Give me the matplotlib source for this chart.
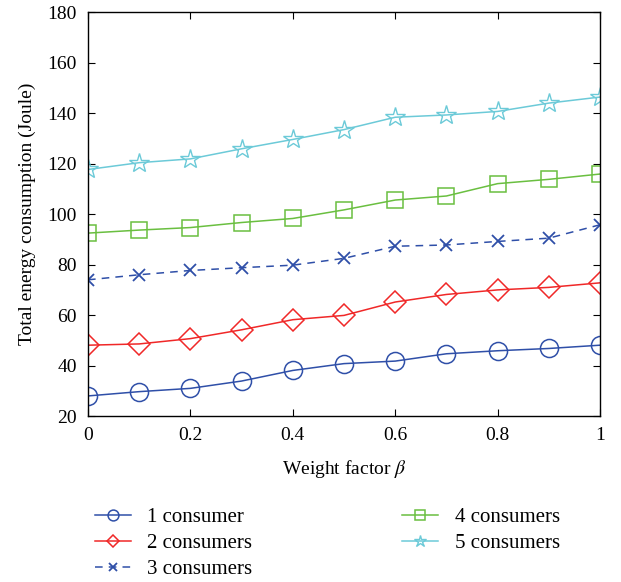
import matplotlib
matplotlib.use('Agg')
import matplotlib.pyplot as plt

plt.rcParams['font.family'] = ['Liberation Serif', 'DejaVu Serif']
plt.rcParams['mathtext.fontset'] = 'stix'

beta = [0, 0.1, 0.2, 0.3, 0.4, 0.5, 0.6, 0.7, 0.8, 0.9, 1.0]

#energy for each number of consumers
energy1 = [28.0, 29.7, 31.0, 33.9, 38.1, 40.8, 41.8, 44.7, 45.9, 46.8, 48.1]
energy2 = [48.1, 48.6, 50.7, 54.2, 58.2, 59.9, 65.2, 68.2, 70.0, 71.0, 72.8]
energy3 = [74.0, 76.0, 77.7, 78.8, 79.8, 82.5, 87.3, 87.8, 89.2, 90.5, 95.8]
energy4 = [92.5, 93.7, 94.7, 96.7, 98.3, 101.7, 105.6, 107.2, 112.1, 113.8, 115.9]
energy5 = [117.7, 120.4, 121.9, 125.9, 129.6, 133.5, 138.4, 139.3, 140.7, 144.0, 146.4]

labels = ['1 consumer', '2 consumers', '3 consumers', '4 consumers', '5 consumers']
yticks = [20, 40, 60, 80, 100, 120, 140, 160, 180]
xticks = [0, 0.2, 0.4, 0.6, 0.8, 1]

fig = plt.figure(figsize=(6.21, 5.82), dpi=100)
ax = fig.add_axes([0.1417, 0.285, 0.8245, 0.694])

ax.plot(beta, energy1, color='#2f4fa8', marker='o', ms=13, mfc='none', mew=1.1, lw=1.1, label=labels[0])
ax.plot(beta, energy2, color='#f02828', marker='D', ms=11, mfc='none', mew=1.1, lw=1.1, label=labels[1])
ax.plot(beta, energy3, color='#2f4fa8', marker='x', ms=9, mew=1.3, lw=1.1, ls=(0, (5, 4)), label=labels[2])
ax.plot(beta, energy4, color='#6abf40', marker='s', ms=11, mfc='none', mew=1.1, lw=1.1, label=labels[3])
ax.plot(beta, energy5, color='#6ccad8', marker='*', ms=15, mfc='none', mew=1.0, lw=1.1, label=labels[4])

ax.set_xlim(0, 1)
ax.set_ylim(20, 180)
ax.set_xticks(xticks)
ax.set_xticklabels(['0', '0.2', '0.4', '0.6', '0.8', '1'])
ax.set_yticks(yticks)
ax.tick_params(direction='in', top=True, right=True, labelsize=14, length=5, pad=8)
for s in ax.spines.values():
    s.set_linewidth(1.0)

ax.set_xlabel(r'Weight factor $\beta$', fontsize=14, labelpad=10)
ax.set_ylabel('Total energy consumption (Joule)', fontsize=14, labelpad=8)

fig.legend(loc='upper left', bbox_to_anchor=(0.14, 0.142), ncol=2, frameon=False,
           fontsize=15, columnspacing=7.2, handlelength=1.7, labelspacing=0.3,
           borderaxespad=0, handletextpad=0.8, markerscale=0.6)

plt.savefig('out.png', dpi=100)
